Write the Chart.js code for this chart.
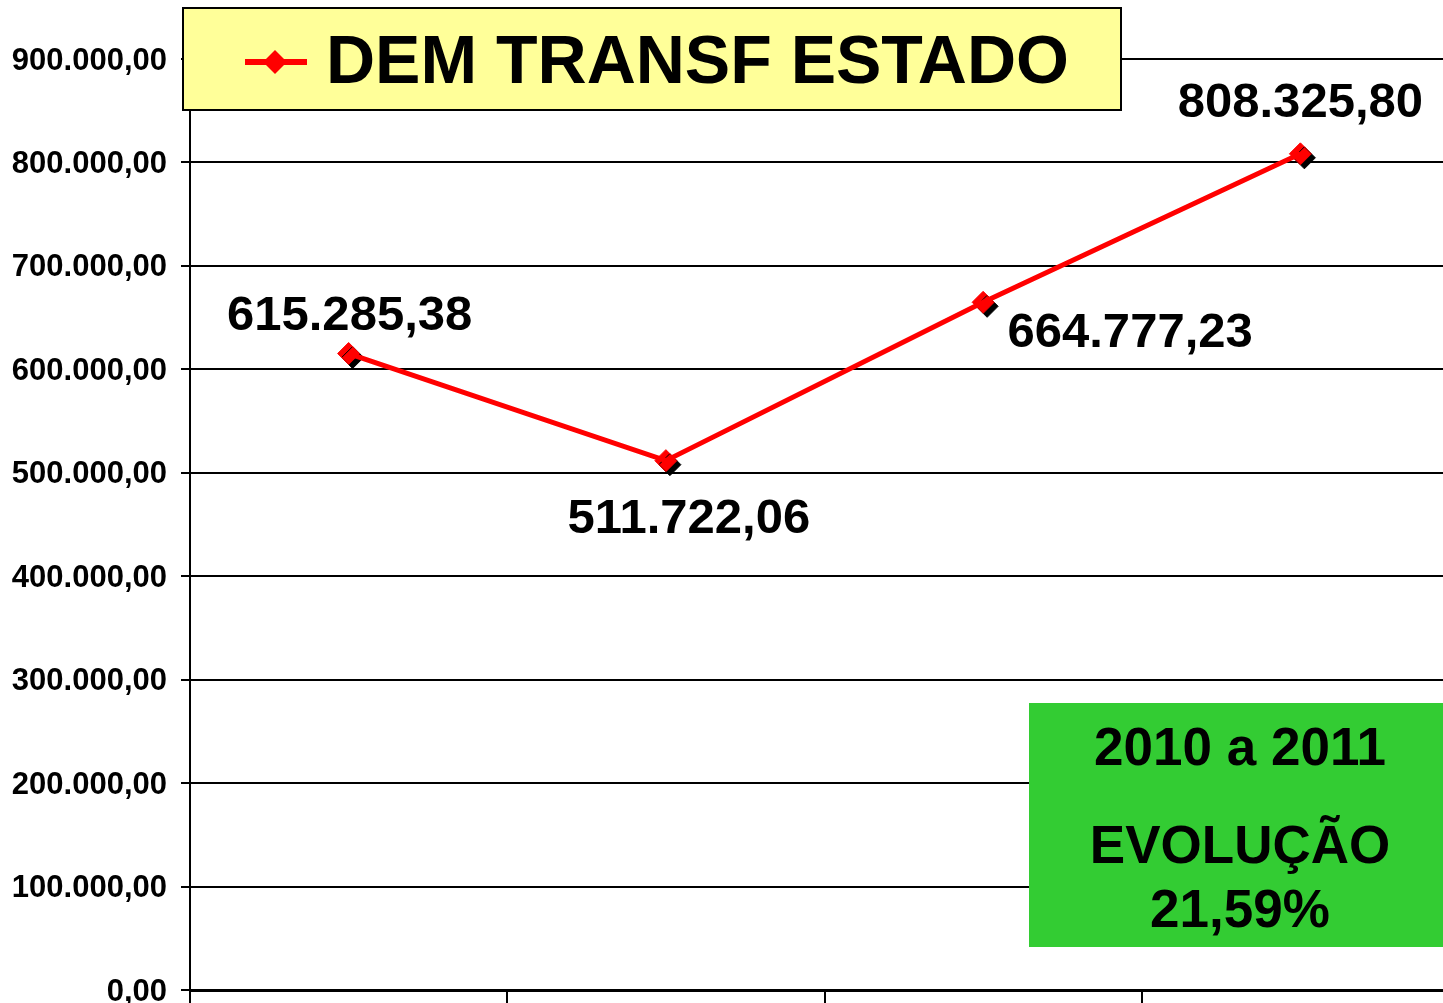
<!DOCTYPE html>
<html>
<head>
<meta charset="utf-8">
<script src="https://cdn.jsdelivr.net/npm/chart.js@4"></script>
<style>
  html, body { margin: 0; padding: 0; background: #fff; overflow: hidden; }
  #wrap { position: relative; width: 1471px; height: 1050px; }
</style>
</head>
<body>
<div id="wrap"><canvas id="chart"></canvas></div>
<script>
'use strict';
// DEM TRANSF ESTADO — linha com 4 anos

// ---------- dados ----------
const categorias = ['2008', '2009', '2010', '2011'];
const valores = [615285.38, 511722.06, 664777.23, 808325.80];
const yTickValues = [0, 100000, 200000, 300000, 400000, 500000, 600000, 700000, 800000, 900000];
const serieNome = 'DEM TRANSF ESTADO';
const periodo = '2010 a 2011';

// ---------- formatadores ----------
function fmtBR(v) {
  const [i, d] = Math.abs(v).toFixed(2).split('.');
  return (v < 0 ? '-' : '') + i.replace(/\B(?=(\d{3})+(?!\d))/g, '.') + ',' + d;
}
const evolucao = ((valores[3] / valores[2] - 1) * 100).toFixed(2).replace('.', ',') + '%';

const RED = '#ff0000';
const FONT = '"Liberation Sans", Arial, sans-serif';
Chart.defaults.font.family = FONT;
Chart.defaults.color = '#000';

// deslocamento (px) de cada rótulo em relação ao ponto
const labelOffsets = [[1, -37], [23, 59], [147, 31], [0, -50]];

const markerShadow = {
  id: 'markerShadow',
  beforeDatasetDraw(chart, args) {
    if (args.index !== 1) return;
    const c = chart.ctx;
    c.save();
    c.shadowColor = '#000';
    c.shadowOffsetX = 4;
    c.shadowOffsetY = 4;
    c.shadowBlur = 0;
  },
  afterDatasetDraw(chart, args) {
    if (args.index === 1) chart.ctx.restore();
  },
};

const dataLabels = {
  id: 'dataLabels',
  afterDatasetsDraw(chart) {
    const c = chart.ctx;
    const meta = chart.getDatasetMeta(1);
    c.save();
    c.font = 'bold 49px ' + FONT;
    c.fillStyle = '#000';
    c.textAlign = 'center';
    c.textBaseline = 'middle';
    meta.data.forEach((p, i) => {
      const [dx, dy] = labelOffsets[i];
      c.fillText(fmtBR(valores[i]), p.x + dx, p.y + dy);
    });
    c.restore();
  },
};

const boxes = {
  id: 'boxes',
  afterDraw(chart) {
    const c = chart.ctx, a = chart.chartArea;
    c.save();
    // legenda
    c.fillStyle = '#ffff99';
    c.fillRect(183, 8, 938, 102);
    c.strokeStyle = '#000';
    c.lineWidth = 2;
    c.strokeRect(183, 8, 938, 102);
    c.strokeStyle = RED;
    c.lineWidth = 6;
    c.beginPath(); c.moveTo(245, 62); c.lineTo(307, 62); c.stroke();
    c.fillStyle = RED;
    c.beginPath();
    c.moveTo(275, 50); c.lineTo(287, 62); c.lineTo(275, 74); c.lineTo(263, 62);
    c.closePath(); c.fill();
    c.fillStyle = '#000';
    c.font = 'bold 68px ' + FONT;
    c.textAlign = 'left';
    c.textBaseline = 'middle';
    c.fillText(serieNome, 326, 64);
    // caixa de evolução
    c.fillStyle = '#33cc33';
    c.fillRect(1029, 703, a.right - 1029, 244);
    c.fillStyle = '#000';
    c.font = 'bold 53px ' + FONT;
    c.textAlign = 'center';
    c.fillText(periodo, 1240, 750);
    c.fillText('EVOLUÇÃO', 1240, 848);
    c.fillText(evolucao, 1240, 912);
    c.restore();
  },
};

new Chart(document.getElementById('chart'), {
  type: 'line',
  data: {
    labels: categorias,
    datasets: [
      { label: serieNome, data: valores, borderColor: RED, borderWidth: 5,
        pointRadius: 0, tension: 0, fill: false, order: 0 },
      { label: serieNome, data: valores, showLine: false, pointStyle: 'rectRot',
        pointRadius: 11, pointBackgroundColor: RED, pointBorderColor: RED,
        pointBorderWidth: 1, order: 1 },
    ],
  },
  options: {
    responsive: true, maintainAspectRatio: false, animation: false,
    layout: { padding: { left: 0, top: 59, right: 3, bottom: 0 } },
    plugins: { legend: { display: false }, tooltip: { enabled: false } },
    scales: {
      x: {
        offset: true,
        grid: { offset: true, drawOnChartArea: false, drawTicks: true, tickLength: 15,
                color: '#000', lineWidth: 2 },
        border: { color: '#000', width: 3 },
        ticks: { font: { size: 30, weight: 'bold' }, padding: 4 },
        afterFit: s => { s.height = 60; },
      },
      y: {
        min: 0, max: 900000,
        afterBuildTicks: ax => { ax.ticks = yTickValues.map(v => ({ value: v })); },
        grid: { color: '#000', lineWidth: 2, tickLength: 9 },
        border: { color: '#000', width: 2 },
        ticks: { font: { size: 31, weight: 'bold' }, padding: 14, labelOffset: 2,
                 callback: v => fmtBR(v) },
        afterFit: s => { s.width = 190; },
      },
    },
  },
  plugins: [markerShadow, dataLabels, boxes],
});
</script>
</body>
</html>
